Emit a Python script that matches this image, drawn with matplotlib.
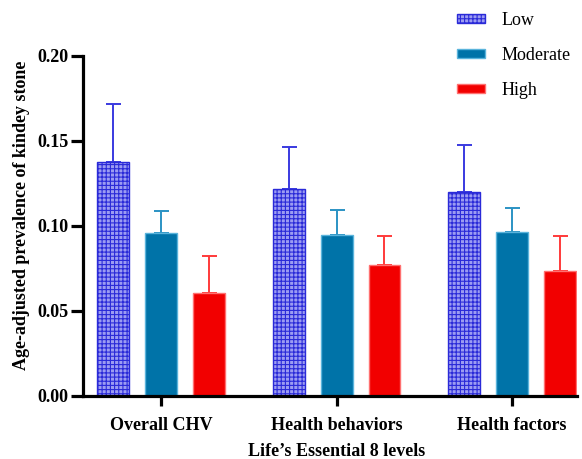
import matplotlib
matplotlib.use("Agg")
import matplotlib.pyplot as plt
import numpy as np
from matplotlib.patches import Patch

categories = ["Overall CHV", "Health behaviors", "Health factors"]
levels = ["Low", "Moderate", "High"]
low_vals = [0.1375, 0.122, 0.120]
low_err = [0.0345, 0.0247, 0.0278]
mod_vals = [0.0961, 0.0949, 0.0965]
mod_err = [0.0127, 0.0147, 0.0141]
high_vals = [0.0604, 0.0769, 0.0734]
high_err = [0.0221, 0.0172, 0.0209]
yticks = [0.00, 0.05, 0.10, 0.15, 0.20]

plt.rcParams['font.family'] = ['Liberation Serif', 'DejaVu Serif']
plt.rcParams['hatch.linewidth'] = 0.8

fig = plt.figure(figsize=(5.82, 4.59), dpi=100)
ax = fig.add_axes([0.1426, 0.1373, 0.849, 0.7407])

x = np.arange(len(categories))
w = 0.182
off = 0.273

series = [
    (low_vals, low_err, -off, dict(facecolor='#9c9cf2', edgecolor='#2a2ad8', hatch='++++', linewidth=1.0), '#3a3ae0'),
    (mod_vals, mod_err, 0.0, dict(facecolor='#0073a8', edgecolor='#5ab4dc', linewidth=1.0), '#2b93c4'),
    (high_vals, high_err, off, dict(facecolor='#f20000', edgecolor='#ff7070', linewidth=1.0), '#ff3a3a'),
]
handles = []
for (vals, errs, o, style, ecol), lab in zip(series, levels):
    ax.bar(x + o, vals, w, label=lab, zorder=2, **style)
    ax.errorbar(x + o, vals, yerr=[np.zeros(len(errs)), errs], fmt='none',
                ecolor=ecol, elinewidth=1.4, capsize=5.4, capthick=1.4, zorder=1)
    handles.append(Patch(label=lab, **style))

ax.set_xlim(-0.444, 2.37)
ax.set_ylim(0, 0.20)
ax.set_yticks(yticks)
ax.set_yticklabels([f"{v:.2f}" for v in yticks], fontweight='bold', fontsize=13)
ax.set_xticks(x)
ax.set_xticklabels(categories, fontweight='bold', fontsize=13)
for s in ['top', 'right']:
    ax.spines[s].set_visible(False)
for s in ['left', 'bottom']:
    ax.spines[s].set_linewidth(2.3)
ax.tick_params(axis='y', length=8.5, width=2.3, pad=2)
ax.tick_params(axis='x', length=7, width=2.3, pad=8)

ax.set_ylabel("Age-adjusted prevalence of kindey stone", fontweight='bold', fontsize=13)
ax.yaxis.set_label_coords(-0.108, 0.53)
ax.set_xlabel("Life\u2019s Essential 8 levels", fontweight='bold', fontsize=13)
ax.xaxis.set_label_coords(0.514, -0.138)

fig.legend(handles=handles, loc='upper left', bbox_to_anchor=(457/582, 1 - 12/459),
           frameon=False, prop={'family': 'Liberation Serif', 'size': 13},
           handlelength=1.55, handleheight=0.4,
           labelspacing=1.0, handletextpad=0.9, borderpad=0, borderaxespad=0)

fig.savefig("out.png", dpi=100)
